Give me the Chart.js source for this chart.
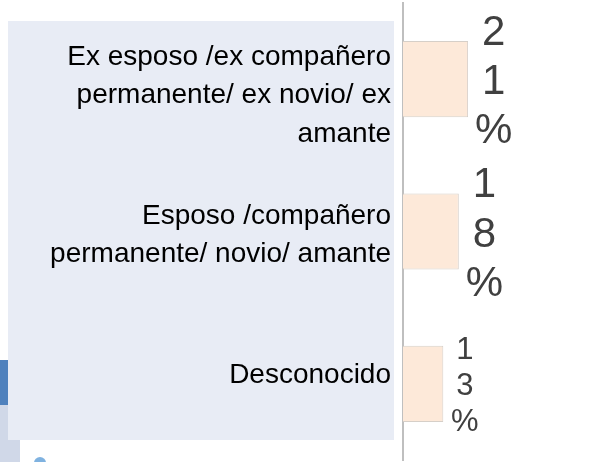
<!DOCTYPE html>
<html>
<head>
<meta charset="utf-8">
<script src="https://cdn.jsdelivr.net/npm/chart.js@4.4.1/dist/chart.umd.min.js"></script>
<style>
  html, body { margin: 0; padding: 0; background: #ffffff; }
  #wrap { width: 589px; height: 462px; position: relative; }
</style>
</head>
<body>
<div id="wrap"><canvas id="chart" width="589" height="462"></canvas></div>
<script>
// categories, one line per array item
const categories = [
  ['Ex esposo /ex compañero', 'permanente/ ex novio/ ex', 'amante'],
  ['Esposo /compañero', 'permanente/ novio/ amante'],
  ['Desconocido']
];
const percentages = [21, 18, 13];
const valueLabels = ['21%', '18%', '13%'];

// slide decoration behind the chart (panel behind the category names)
const slideBackground = {
  id: 'slideBackground',
  beforeDraw(chart) {
    const ctx = chart.ctx;
    ctx.save();
    ctx.fillStyle = '#d0d8e8';
    ctx.fillRect(0, 405, 20, 57);
    ctx.fillStyle = '#4f81bd';
    ctx.fillRect(0, 360, 8, 45);
    ctx.fillStyle = '#e8ecf5';
    ctx.fillRect(8, 21, 386, 419);
    // little icon peeking in at the bottom
    ctx.fillStyle = '#7fb2e0';
    ctx.beginPath();
    ctx.arc(40, 463, 6, Math.PI, 0);
    ctx.fill();
    ctx.restore();
  }
};

// category names, right aligned, spread over the panel
const categoryNames = {
  id: 'categoryNames',
  afterDraw(chart, args, opts) {
    const ctx = chart.ctx;
    const labels = chart.data.labels;
    const rowH = (opts.bottom - opts.top) / labels.length;
    const right = chart.chartArea.left - opts.gap;
    ctx.save();
    ctx.font = opts.size + 'px "Liberation Sans", Arial, sans-serif';
    ctx.fillStyle = '#000000';
    ctx.textAlign = 'right';
    ctx.textBaseline = 'alphabetic';
    labels.forEach((lines, i) => {
      const mid = opts.top + (i + 0.5) * rowH + opts.shift;
      lines.forEach((line, k) => {
        const y = mid + opts.size * 0.358 + (k - (lines.length - 1) / 2) * opts.lineHeight;
        ctx.fillText(line, right, y);
      });
    });
    ctx.restore();
  }
};

// value labels, one character per line, right of each bar
const stackedValues = {
  id: 'stackedValues',
  afterDatasetsDraw(chart, args, opts) {
    const ctx = chart.ctx;
    const meta = chart.getDatasetMeta(0);
    ctx.save();
    ctx.fillStyle = '#404040';
    ctx.textAlign = 'center';
    ctx.textBaseline = 'alphabetic';
    meta.data.forEach((bar, i) => {
      const fs = opts.sizes[i];
      const chars = valueLabels[i].split('');
      const lh = fs * 1.17;
      const x = bar.x + 10 + fs * 0.37;
      ctx.font = fs + 'px "Liberation Sans", Arial, sans-serif';
      chars.forEach((c, k) => {
        const y = bar.y + fs * 0.358 + (k - (chars.length - 1) / 2) * lh;
        ctx.fillText(c, x, y);
      });
    });
    ctx.restore();
  }
};

new Chart(document.getElementById('chart'), {
  type: 'bar',
  data: {
    labels: categories,
    datasets: [{
      data: percentages,
      backgroundColor: '#fde9d9',
      borderColor: '#d6cfc8',
      borderWidth: 1,
      barPercentage: 0.5,
      categoryPercentage: 1
    }]
  },
  options: {
    indexAxis: 'y',
    responsive: false,
    animation: false,
    devicePixelRatio: 1,
    layout: { padding: { top: 3, bottom: 2, left: 0, right: 0 } },
    scales: {
      x: { display: false, min: 0, max: 60 },
      y: {
        grid: { display: false },
        border: { display: true, color: '#bfbfbf', width: 2 },
        ticks: { display: false },
        afterFit(scale) { scale.width = 403; }
      }
    },
    plugins: {
      legend: { display: false },
      tooltip: { enabled: false },
      categoryNames: { top: 21, bottom: 440, gap: 12, size: 28, lineHeight: 38.5, shift: 2.5 },
      stackedValues: { sizes: [42, 42, 31] }
    }
  },
  plugins: [slideBackground, categoryNames, stackedValues]
});
</script>
</body>
</html>
